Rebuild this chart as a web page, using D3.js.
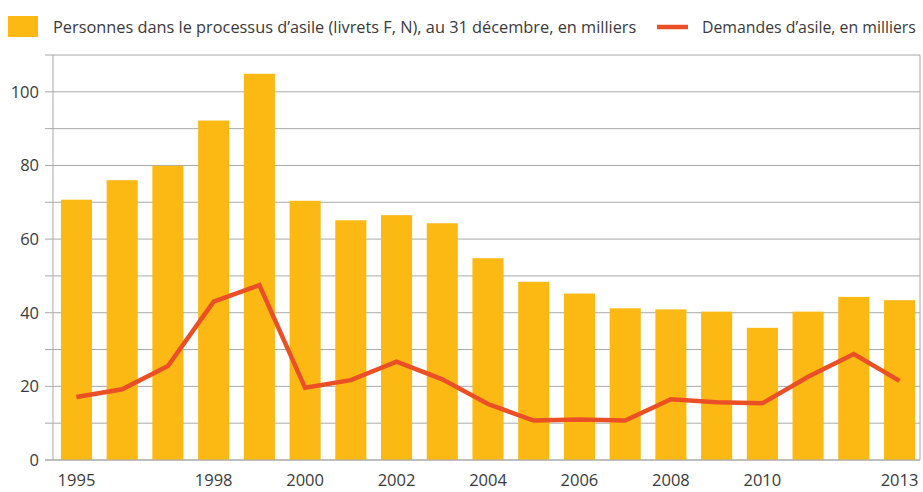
<!DOCTYPE html>
<html>
<head>
<meta charset="utf-8">
<script src="https://cdn.jsdelivr.net/npm/d3@7"></script>
<style>
  body { margin: 0; background: #fff; }
  text { font-family: "Open Sans", "Noto Sans", sans-serif; fill: #3a3a3a; }
</style>
</head>
<body>
<script>
// data
var years = ["1995", "1996", "1997", "1998", "1999", "2000", "2001", "2002", "2003", "2004",
             "2005", "2006", "2007", "2008", "2009", "2010", "2011", "2012", "2013"];
var personnes = [70.7, 76.0, 79.9, 92.2, 104.9, 70.4, 65.1, 66.5, 64.3, 54.8,
                 48.4, 45.2, 41.2, 40.9, 40.3, 35.9, 40.3, 44.3, 43.4];
var demandes = [17.1, 19.2, 25.5, 43.0, 47.5, 19.6, 21.7, 26.7, 21.9, 15.2,
                10.7, 11.0, 10.7, 16.5, 15.7, 15.4, 22.6, 28.8, 21.5];
var yLabels = [0, 20, 40, 60, 80, 100];
var xLabels = ["1995", "1998", "2000", "2002", "2004", "2006", "2008", "2010", "2013"];
var legendLabels = ["Personnes dans le processus d\u2019asile (livrets F, N), au 31 d\u00e9cembre, en milliers",
                    "Demandes d\u2019asile, en milliers"];

var W = 923, H = 492;
var plotLeft = 53, plotRight = 920, plotTop = 55, plotBottom = 460;

var barColor = "#fdb913", lineColor = "#eb4f25", gridColor = "#a9a9a9";

var svg = d3.select("body").append("svg")
    .attr("width", W)
    .attr("height", H);

// scales
var x = d3.scaleBand()
    .domain(years)
    .range([53.6, 922.4])
    .paddingInner(0.32)
    .paddingOuter(0.16);

var y = d3.scaleLinear()
    .domain([0, 110])
    .range([plotBottom, plotTop]);

// gridlines every 10 with small ticks left of the axis
svg.append("g")
  .selectAll("line")
    .data(d3.range(0, 111, 10))
  .enter().append("line")
    .attr("x1", plotLeft - 8)
    .attr("x2", plotRight)
    .attr("y1", function(d) { return y(d); })
    .attr("y2", function(d) { return y(d); })
    .attr("stroke", gridColor)
    .attr("stroke-width", 1);

// vertical borders
svg.append("line")
    .attr("x1", plotLeft).attr("x2", plotLeft)
    .attr("y1", plotTop).attr("y2", plotBottom)
    .attr("stroke", gridColor);
svg.append("line")
    .attr("x1", plotRight).attr("x2", plotRight)
    .attr("y1", plotTop).attr("y2", plotBottom)
    .attr("stroke", gridColor);

// bars
svg.append("g")
  .selectAll("rect")
    .data(personnes)
  .enter().append("rect")
    .attr("x", function(d, i) { return x(years[i]); })
    .attr("width", x.bandwidth())
    .attr("y", function(d) { return y(d); })
    .attr("height", function(d) { return plotBottom - y(d); })
    .attr("fill", barColor);

// bottom axis line on top of bars
svg.append("line")
    .attr("x1", plotLeft - 8).attr("x2", plotRight)
    .attr("y1", plotBottom).attr("y2", plotBottom)
    .attr("stroke", gridColor);

// line
var line = d3.line()
    .x(function(d, i) { return x(years[i]) + x.bandwidth() / 2; })
    .y(function(d) { return y(d); });

svg.append("path")
    .datum(demandes)
    .attr("d", line)
    .attr("fill", "none")
    .attr("stroke", lineColor)
    .attr("stroke-width", 4.5)
    .attr("stroke-linejoin", "miter");

// y labels
svg.append("g")
  .selectAll("text")
    .data(yLabels)
  .enter().append("text")
    .attr("x", 39)
    .attr("y", function(d) { return y(d); })
    .attr("dy", "0.35em")
    .attr("text-anchor", "end")
    .style("font-size", "16.5px")
    .text(function(d) { return d; });

// x labels
svg.append("g")
  .selectAll("text")
    .data(xLabels)
  .enter().append("text")
    .attr("x", function(d) { return x(d) + x.bandwidth() / 2; })
    .attr("y", 486)
    .attr("text-anchor", "middle")
    .style("font-size", "16.5px")
    .text(function(d) { return d; });

// legend: shrink font so each label fits its width
function fitText(sel, width) {
  var w = sel.node().getComputedTextLength();
  if (w > width) sel.style("font-size", (16.5 * width / w) + "px");
}

svg.append("rect")
    .attr("x", 8).attr("y", 16)
    .attr("width", 30).attr("height", 21)
    .attr("fill", barColor);
var leg1 = svg.append("text")
    .attr("x", 53).attr("y", 33)
    .style("font-size", "16.5px")
    .text(legendLabels[0]);
fitText(leg1, 584);

svg.append("line")
    .attr("x1", 657).attr("x2", 688)
    .attr("y1", 27).attr("y2", 27)
    .attr("stroke", lineColor)
    .attr("stroke-width", 4.5);
var leg2 = svg.append("text")
    .attr("x", 702).attr("y", 33)
    .style("font-size", "16.5px")
    .text(legendLabels[1]);
fitText(leg2, 214);
</script>
</body>
</html>
